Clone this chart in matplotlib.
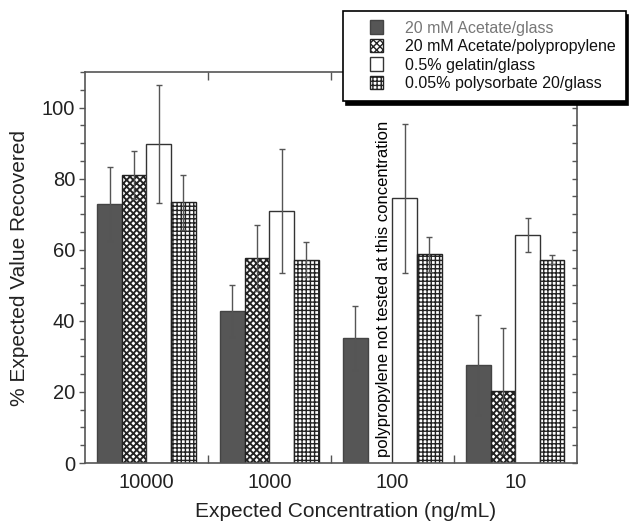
import numpy as np
import matplotlib
matplotlib.use("Agg")
import matplotlib.pyplot as plt
import matplotlib.transforms as mtransforms
from matplotlib.ticker import MultipleLocator, FixedLocator, NullFormatter
from matplotlib.patches import Rectangle
from matplotlib.legend_handler import HandlerPatch

plt.rcParams['font.family'] = ['Liberation Sans', 'DejaVu Sans']
plt.rcParams['hatch.linewidth'] = 1.0

categories = ["10000", "1000", "100", "10"]
series_names = ["20 mM Acetate/glass", "20 mM Acetate/polypropylene",
                "0.5% gelatin/glass", "0.05% polysorbate 20/glass"]
acetate_glass = [72.8, 42.7, 35.2, 27.5]
acetate_glass_err = [10.4, 7.3, 8.9, 14.0]
acetate_pp = [81.1, 57.7, np.nan, 20.3]
acetate_pp_err = [6.8, 9.3, np.nan, 17.7]
gelatin_glass = [89.8, 70.8, 74.5, 64.2]
gelatin_glass_err = [16.6, 17.4, 21.0, 4.8]
polysorbate_glass = [73.3, 57.2, 58.7, 57.2]
polysorbate_glass_err = [7.8, 5.0, 5.0, 1.2]
note_text = "polypropylene not tested at this concentration"

values = [acetate_glass, acetate_pp, gelatin_glass, polysorbate_glass]
errors = [acetate_glass_err, acetate_pp_err, gelatin_glass_err, polysorbate_glass_err]
faces = ["#565656", "white", "white", "white"]
hatches = [None, "xxxxx", None, "++++"]
hatch_lws = [1.0, 1.35, 1.0, 1.0]
edges = ["#444444", "#222222", "#333333", "#222222"]

fig = plt.figure(figsize=(6.29, 5.24), dpi=100)
ax = fig.add_axes([0.135, 0.1164, 0.782, 0.7462])

x = np.arange(len(categories))
w = 0.2
offs = [-1.5, -0.5, 0.5, 1.5]
handles = []
for i in range(4):
    v = np.array(values[i], dtype=float)
    e = np.array(errors[i], dtype=float)
    b = ax.bar(x + offs[i] * w, v, width=w, color=faces[i], edgecolor=edges[i],
               hatch=hatches[i], linewidth=1.0, label=series_names[i], zorder=2)
    for p in b.patches:
        try:
            p.set_hatch_linewidth(hatch_lws[i])
        except AttributeError:
            pass
    handles.append(b.patches[0])
    ax.errorbar(x + offs[i] * w, v, yerr=e, fmt='none', ecolor="#555555",
                elinewidth=1.0, capsize=2.5, capthick=1.0, zorder=3)

ax.text(2 - 0.07, 1.7, note_text, rotation=90, ha='center', va='bottom',
        fontsize=12, color='black', zorder=4)

ax.set_xlim(-0.5, 3.5)
ax.set_ylim(0, 110)
ax.set_xticks(x)
ax.set_xticklabels(categories, fontsize=14.5)
shift = mtransforms.ScaledTranslation(4 / 100, 0, fig.dpi_scale_trans)
for lab in ax.get_xticklabels():
    lab.set_transform(lab.get_transform() + shift)
ax.xaxis.set_minor_locator(FixedLocator([0.5, 1.5, 2.5]))
ax.tick_params(axis='x', which='major', length=0, pad=7)
ax.tick_params(axis='x', which='minor', direction='in', length=5.5, top=True, bottom=True, width=1)
ax.yaxis.set_major_locator(MultipleLocator(20))
ax.yaxis.set_minor_locator(MultipleLocator(5))
ax.tick_params(axis='y', which='major', direction='out', length=4, labelsize=14.5, right=False, width=1, pad=3)
ax.tick_params(axis='y', which='minor', direction='out', length=3.5, right=False, width=1)

ax2 = ax.twinx()
ax2.set_ylim(0, 110)
ax2.yaxis.set_major_locator(MultipleLocator(5))
ax2.yaxis.set_major_formatter(NullFormatter())
ax2.tick_params(axis='y', direction='in', length=3.5, width=1, colors="#555555")
for s in ax2.spines.values():
    s.set_visible(False)

for s in ax.spines.values():
    s.set_color("#555555")
    s.set_linewidth(1.2)
ax.tick_params(colors="#555555", which='both')
for lab in ax.get_xticklabels() + ax.get_yticklabels():
    lab.set_color("#222222")

ax.set_xlabel("Expected Concentration (ng/mL)", fontsize=15, color="#222222")
ax.xaxis.set_label_coords(0.53, -0.100)
ax.xaxis.label.set_va('top')
ax.set_ylabel("% Expected Value Recovered", fontsize=15, color="#222222", labelpad=9)


def square_patch(legend, orig_handle, xdescent, ydescent, width, height, fontsize):
    s = height * 1.05
    return Rectangle((width - s - xdescent, -ydescent + (height - s) / 2), s, s)


leg = fig.legend(handles=handles, labels=series_names, loc='upper left',
                 bbox_to_anchor=(343 / 629, 1 - 11 / 524), fontsize=11.5,
                 frameon=True, fancybox=False, edgecolor='black',
                 shadow={'color': 'black', 'alpha': 1.0, 'ox': 2, 'oy': -3},
                 handlelength=1.9, handleheight=0.85, labelspacing=0.22,
                 borderpad=0.6, handletextpad=1.4, borderaxespad=0,
                 handler_map={h: HandlerPatch(patch_func=square_patch) for h in handles})
leg.get_frame().set_linewidth(1.2)
texts = leg.get_texts()
texts[0].set_color("#777777")
for t in texts[1:]:
    t.set_color("#111111")

fig.savefig("out.png", dpi=100)
